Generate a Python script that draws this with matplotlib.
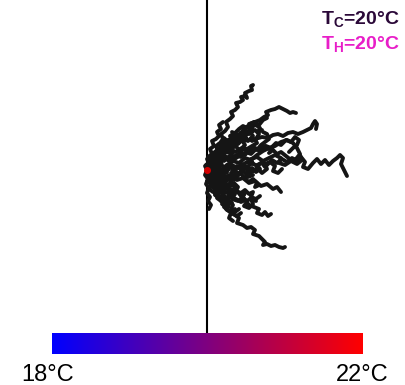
import matplotlib
matplotlib.use('Agg')
import matplotlib.pyplot as plt
import numpy as np
from matplotlib.colors import LinearSegmentedColormap

plt.rcParams['font.family'] = ['Liberation Sans', 'DejaVu Sans']
plt.rcParams['mathtext.fontset'] = 'custom'
plt.rcParams['mathtext.rm'] = 'Liberation Sans:bold'

# cell tracks, offsets from the start point (dx right, dy up)
tracks = [
    ([0, 3, 6, 4, 8, 11, 9, 13, 16, 14, 18, 21, 19, 23, 26, 24, 28, 31, 29, 33, 36, 34, 38, 40, 38, 42, 45, 44, 46],
     [0, 4, 7, 12, 15, 19, 24, 27, 31, 36, 39, 43, 48, 51, 54, 58, 60, 63, 67, 68, 70, 73, 74, 72, 77, 79, 80, 84, 85]),
    ([0, 5, 9, 14, 12, 18, 23, 27, 25, 31, 36, 40, 44, 42, 48, 53, 57, 61, 59, 64, 68, 72, 76, 80, 83, 86, 89],
     [2, 5, 9, 8, 14, 17, 20, 25, 30, 32, 35, 38, 41, 46, 48, 50, 53, 55, 58, 60, 61, 63, 61, 59, 57, 58, 57]),
    ([2, 7, 12, 10, 16, 21, 26, 24, 30, 35, 40, 45, 50, 48, 55, 61, 66, 71, 76, 81, 86, 91, 96, 100, 104, 106, 108, 110, 109],
     [-2, 1, 4, 9, 11, 13, 12, 17, 19, 22, 21, 24, 27, 31, 33, 32, 35, 36, 34, 37, 38, 36, 38, 40, 42, 46, 49, 46, 41]),
    ([1, 6, 10, 15, 20, 18, 25, 30, 35, 40, 45, 50, 55, 60, 65, 70, 75, 80, 85, 90, 94, 98, 96, 101, 106, 110, 114, 118, 122, 126, 130, 133, 136, 134, 137, 140],
     [1, -2, 2, 0, -3, 3, 5, 2, 6, 3, 7, 4, 8, 5, 10, 7, 11, 8, 12, 9, 13, 8, 3, 1, 7, 11, 6, 10, 5, 9, 12, 15, 12, 6, 0, -6]),
    ([0, 4, 2, 7, 10, 8, 13, 17, 21, 19, 24, 28, 32, 30, 36, 40, 44, 48, 46, 52, 55, 58, 56, 60, 64, 68, 72, 76, 78],
     [-2, -6, -11, -14, -19, -24, -27, -30, -34, -39, -42, -45, -48, -53, -55, -58, -57, -60, -64, -66, -69, -72, -75, -74, -76, -75, -77, -78, -77]),
    ([3, 8, 6, 12, 16, 20, 25, 23, 29, 34, 38, 42, 47, 52, 50, 55, 58, 61, 64],
     [-4, -8, -13, -16, -14, -19, -22, -27, -29, -32, -30, -35, -37, -39, -43, -45, -42, -46, -44]),
    ([0, 5, 10, 14, 19, 24, 29, 34, 39, 44, 49, 54, 59, 64, 69, 74, 79, 84, 88, 92, 90, 86, 82],
     [3, 6, 4, 9, 12, 10, 15, 13, 18, 16, 21, 19, 24, 22, 27, 25, 30, 28, 33, 30, 25, 22, 18]),
    ([0, 6, 12, 18, 16, 22, 28, 34, 40, 46, 44, 50, 56, 62, 68, 74, 72, 78, 84, 90, 95, 93],
     [-3, -1, -5, -2, 3, 5, 1, 4, 8, 6, 11, 13, 9, 12, 15, 12, 7, 5, 9, 6, 10, 15]),
    ([0, 3, 1, 5, 8, 6, 10, 13, 11, 15, 18, 16, 20, 23, 21, 25],
     [0, -4, -8, -11, -9, -14, -17, -13, -19, -22, -18, -25, -28, -24, -30, -33]),
    ([1, 4, 2, 6, 9, 7, 11, 14, 12, 16, 19, 17, 21, 24, 27, 25, 29],
     [1, 5, 9, 12, 10, 15, 18, 22, 26, 24, 29, 32, 28, 31, 35, 38, 36]),
    ([0, 4, 8, 6, 11, 15, 13, 18, 22, 20, 25, 29, 27, 32, 36, 34, 39, 43, 41, 46],
     [0, -2, 1, 5, 3, -1, -5, -3, 1, 5, 3, -2, -6, -4, 0, 4, 2, -3, -7, -5]),
    ([2, 0, 4, 7, 5, 9, 12, 10, 14, 17, 15, 19, 22, 20, 24, 28, 26, 30, 34],
     [-1, -6, -9, -13, -17, -20, -24, -28, -31, -29, -34, -37, -35, -40, -42, -39, -44, -46, -43]),
    ([0, 5, 3, 8, 12, 10, 15, 19, 17, 22, 26, 24, 29, 33, 31, 36, 40, 38, 43],
     [2, 4, 9, 11, 8, 13, 15, 19, 22, 20, 25, 23, 28, 31, 27, 33, 30, 35, 37]),
    ([1, -1, 3, 1, 5, 3, 7, 5, 9, 12, 10, 14, 12, 16],
     [0, 5, 8, 13, 16, 21, 24, 29, 31, 34, 38, 41, 45, 48]),
    ([0, -2, 1, -1, 2, 0, 3, 1, 4, 2],
     [0, -5, -9, -14, -18, -23, -27, -31, -35, -39]),
    ([0, 3, 7, 5, 9, 13, 11, 15, 19, 17, 21, 24, 22, 26],
     [-3, -7, -10, -15, -18, -21, -26, -29, -32, -37, -40, -43, -48, -51]),
    ([0, 4, 2, 7, 11, 9, 14, 18, 16, 21, 25, 23, 28, 32, 36, 40, 44, 48, 52, 56, 60],
     [1, 4, 9, 12, 10, 15, 19, 23, 27, 30, 28, 34, 37, 41, 44, 42, 46, 48, 45, 50, 52]),
    ([0, 5, 9, 7, 12, 16, 20, 18, 23, 27, 31, 29, 34, 38, 42, 46, 44, 49, 53],
     [-1, 1, -3, -7, -9, -6, -10, -14, -16, -13, -17, -21, -23, -20, -24, -22, -27, -29, -26]),
    ([0, 6, 12, 18, 24, 30, 36, 42, 48, 54, 60, 66, 70, 74],
     [0, -4, -2, -7, -5, -10, -8, -13, -11, -16, -14, -19, -17, -22]),
    ([0, 5, 10, 15, 13, 19, 24, 29, 34, 32, 38, 43, 48, 53, 58, 62],
     [0, 3, 1, 5, 9, 11, 8, 12, 15, 19, 21, 18, 22, 20, 24, 21]),
    ([0, 4, 8, 5, 2, 6, 10, 14, 11, 8, 12, 16, 20, 17, 14, 18, 22, 26, 23, 20, 24, 28, 32],
     [0, 3, 1, -3, 2, 6, 4, 8, 12, 9, 13, 16, 12, 9, 15, 19, 17, 21, 25, 22, 26, 24, 28]),
    ([1, 5, 9, 6, 10, 14, 18, 15, 12, 16, 20, 24, 28, 25, 22, 26, 30, 34, 38, 35, 40, 44],
     [-1, -4, -1, -6, -9, -5, -8, -13, -10, -15, -18, -14, -17, -22, -19, -24, -21, -26, -23, -28, -31, -28]),
    ([2, 6, 4, 9, 13, 17, 15, 20, 24, 28, 26, 31, 35, 33, 38, 42, 46, 44, 49, 53, 51, 55],
     [4, 7, 12, 15, 13, 17, 22, 25, 23, 28, 33, 35, 32, 37, 40, 36, 39, 43, 45, 42, 38, 40]),
    ([0, 3, 7, 10, 8, 12, 16, 20, 24, 22, 27, 31, 29, 34, 38, 42, 40, 45, 49, 53, 50, 55, 58],
     [-5, -8, -6, -10, -14, -17, -13, -16, -12, -8, -10, -6, -2, -4, -8, -5, 0, 2, -2, 1, 5, 7, 3]),
    ([1, 5, 3, 7, 11, 9, 13, 17, 21, 19, 23, 27, 25, 30, 34, 38, 36, 41, 45, 43, 47],
     [6, 9, 13, 16, 14, 19, 21, 18, 22, 26, 29, 27, 32, 35, 33, 37, 41, 44, 41, 46, 48]),
    ([0, 4, 8, 12, 10, 14, 18, 22, 26, 24, 28, 32, 36, 40, 38, 42, 46, 50, 48, 52],
     [2, -1, 2, -2, -6, -9, -6, -10, -7, -3, -1, -4, -1, -5, -9, -12, -9, -13, -17, -15]),
    ([0, -2, 2, 0, 4, 8, 6, 10, 14, 12, 16, 20, 18, 22, 26, 30, 28],
     [0, 4, 7, 11, 14, 12, 17, 19, 16, 21, 24, 22, 27, 30, 28, 32, 36]),
    ([1, 3, 0, 4, 2, 6, 10, 8, 12, 16, 14, 18, 22, 26, 24, 28, 32],
     [-2, -7, -11, -14, -19, -22, -20, -25, -28, -25, -31, -34, -31, -35, -39, -42, -39]),
    ([20, 26, 32, 38, 44, 50, 56, 62, 68, 74, 80, 86, 90, 93, 89, 84, 79, 74, 70, 66, 62],
     [5, 9, 7, 12, 10, 15, 19, 22, 24, 28, 30, 27, 22, 16, 11, 10, 14, 18, 16, 20, 17]),
    ([10, 15, 20, 25, 22, 28, 33, 38, 35, 30, 26, 31, 36, 41, 46, 43, 48, 52, 49, 45],
     [10, 14, 11, 16, 21, 24, 20, 25, 30, 33, 28, 26, 31, 29, 34, 38, 40, 36, 31, 29]),
    ([8, 12, 17, 14, 19, 24, 28, 25, 31, 36, 40, 37, 42, 46, 44, 49],
     [-12, -16, -13, -20, -23, -19, -24, -29, -31, -27, -32, -36, -38, -34, -29, -31]),
    ([25, 30, 35, 40, 45, 50, 55, 60, 58, 63, 68, 66, 71, 75],
     [0, 4, -1, 3, -2, 2, -3, 1, 6, 8, 4, -1, -3, 1]),
    ([30, 34, 38, 42, 46, 50, 54, 58, 62, 60, 56],
     [15, 18, 15, 20, 23, 20, 25, 28, 31, 36, 38]),
]

temp_min, temp_max = 18, 22
tc_label = r'T$_\mathrm{C}$=20°C'
th_label = r'T$_\mathrm{H}$=20°C'

fig = plt.figure(figsize=(4.06, 3.85), dpi=100)
ax = fig.add_axes([0, 0, 1, 1])
ax.set_xlim(-207, 199)
ax.set_ylim(-215, 170)
ax.axis('off')

# line at the centre of the gradient
ax.plot([0, 0], [-163, 170], color='black', lw=1.5, zorder=1)

for xs, ys in tracks:
    ax.plot(xs, ys, color='#151515', lw=2.8, solid_joinstyle='round',
            solid_capstyle='round', zorder=2)
ax.plot(0, 0, 'o', color='#d00000', ms=4, zorder=3)

# temperature gradient bar
cmap = LinearSegmentedColormap.from_list('bluered', ['#0000ff', '#ff0000'])
cax = fig.add_axes([52 / 406, 31 / 385, 311 / 406, 21 / 385])
cax.imshow(np.linspace(0, 1, 256)[None, :], cmap=cmap, aspect='auto')
cax.axis('off')

fig.text(48 / 406, 1 - 381 / 385, f'{temp_min}°C', fontsize=17, ha='center', va='baseline')
fig.text(362 / 406, 1 - 381 / 385, f'{temp_max}°C', fontsize=17, ha='center', va='baseline')

fig.text(400 / 406, 1 - 25 / 385, tc_label, fontsize=14, fontweight='bold',
         color='#2a0838', ha='right', va='baseline')
fig.text(400 / 406, 1 - 50 / 385, th_label, fontsize=14, fontweight='bold',
         color='#e81ec8', ha='right', va='baseline')

fig.savefig('out.png', dpi=100)
